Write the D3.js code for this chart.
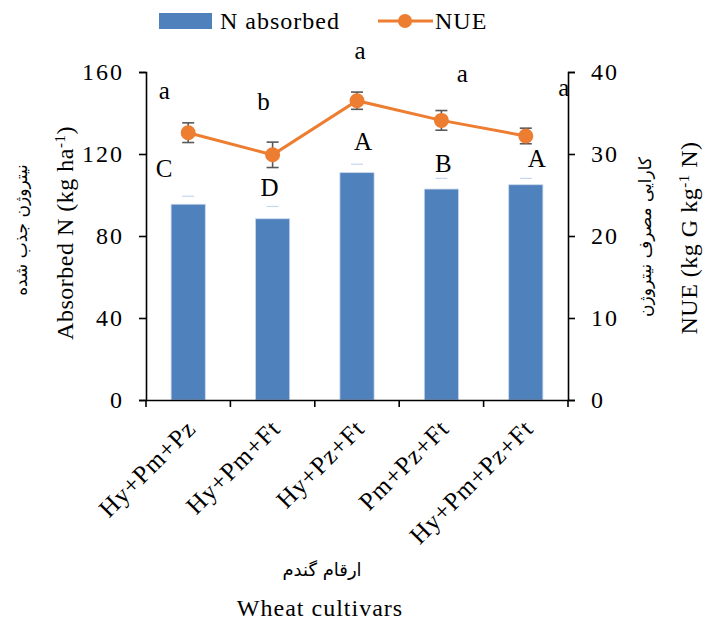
<!DOCTYPE html>
<html>
<head>
<meta charset="utf-8">
<script src="https://cdn.jsdelivr.net/npm/d3@7/dist/d3.min.js"></script>
<style>
  html, body { margin: 0; padding: 0; background: #fff; }
  svg { display: block; }
  text { font-family: "Liberation Serif", "Times New Roman", serif; fill: #000; letter-spacing: 1px; }
  .fa { font-family: "DejaVu Sans", "Noto Sans", sans-serif; letter-spacing: 0; }
</style>
</head>
<body>
<svg id="chart" width="703" height="621"></svg>
<script>
// Wheat cultivar mixtures
const cultivars = ["Hy+Pm+Pz", "Hy+Pm+Ft", "Hy+Pz+Ft", "Pm+Pz+Ft", "Hy+Pm+Pz+Ft"];

// Absorbed nitrogen (kg ha-1) and its error
const nAbsorbed = [95.5, 88.4, 110.9, 102.9, 105.0];
const nAbsorbedErr = [3.9, 6.0, 4.1, 5.2, 3.1];

// Nitrogen use efficiency (kg G kg-1 N) and its error
const nue = [32.6, 29.9, 36.5, 34.1, 32.2];
const nueErr = [1.2, 1.55, 1.05, 1.2, 0.95];

// Mean-separation letters
const nLetters = ["C", "D", "A", "B", "A"];
const nueLetters = ["a", "b", "a", "a", "a"];

// Axis ticks
const leftTicks = [0, 40, 80, 120, 160];
const rightTicks = [0, 10, 20, 30, 40];

const svg = d3.select("#chart");
const m = { left: 146, right: 568, top: 72, bottom: 400 };

const x = d3.scaleBand().domain(cultivars).range([m.left, m.right]).paddingInner(0).paddingOuter(0);
const yL = d3.scaleLinear().domain([0, 160]).range([m.bottom, m.top]);
const yR = d3.scaleLinear().domain([0, 40]).range([m.bottom, m.top]);
const cx = d => x(d) + x.bandwidth() / 2;
const barW = x.bandwidth() * 0.405;

const blue = "#4f81bd", orange = "#ed7d31", errGrey = "#595959";
const tickFont = 24;

// Bars
svg.append("g").selectAll("rect").data(cultivars).join("rect")
  .attr("x", (d) => cx(d) - barW / 2)
  .attr("y", (d, i) => yL(nAbsorbed[i]))
  .attr("width", barW)
  .attr("height", (d, i) => yL(0) - yL(nAbsorbed[i]))
  .attr("fill", blue)
  .attr("stroke", "#c9d7ea")
  .attr("stroke-width", 0.8);

// Bar error caps (faint)
svg.append("g").selectAll("line").data(cultivars).join("line")
  .attr("x1", d => cx(d) - 6).attr("x2", d => cx(d) + 6)
  .attr("y1", (d, i) => yL(nAbsorbed[i] + nAbsorbedErr[i]))
  .attr("y2", (d, i) => yL(nAbsorbed[i] + nAbsorbedErr[i]))
  .attr("stroke", "#c6d6ee").attr("stroke-width", 1.2);

// Axes
const axL = d3.axisLeft(yL).tickValues(leftTicks).tickSize(7).tickPadding(15);
const axR = d3.axisRight(yR).tickValues(rightTicks).tickSize(7).tickPadding(16);
const axB = d3.axisBottom(x).tickValues([]).tickSizeOuter(0);

function styleAxis(g) {
  g.selectAll("path, line").attr("stroke", "#000").attr("stroke-width", 1.6);
  g.selectAll("text").style("font-family", "Liberation Serif").style("font-size", tickFont + "px")
    .style("letter-spacing", "2px").attr("fill", "#000");
}
svg.append("g").attr("transform", `translate(${m.left},0)`).call(axL).call(styleAxis);
svg.append("g").attr("transform", `translate(${m.right},0)`).call(axR).call(styleAxis);
const gB = svg.append("g").attr("transform", `translate(0,${m.bottom})`).call(axB).call(styleAxis);

// Category boundary ticks on the x axis
const bounds = cultivars.map(d => x(d)).concat([m.right]);
gB.selectAll("line.bt").data(bounds).join("line").attr("class", "bt")
  .attr("x1", d => d).attr("x2", d => d).attr("y1", 0).attr("y2", 7)
  .attr("stroke", "#000").attr("stroke-width", 1.6);

// Rotated category labels
svg.append("g").selectAll("text").data(cultivars).join("text")
  .attr("transform", d => `translate(${cx(d) + 3},${m.bottom + 24}) rotate(-45)`)
  .attr("text-anchor", "end")
  .attr("dy", "0.35em")
  .style("font-size", "25px")
  .text(d => d);

// NUE error bars
const eg = svg.append("g").attr("stroke", errGrey).attr("stroke-width", 1.6);
cultivars.forEach((d, i) => {
  const xc = cx(d), y1 = yR(nue[i] - nueErr[i]), y2 = yR(nue[i] + nueErr[i]);
  eg.append("line").attr("x1", xc).attr("x2", xc).attr("y1", y1).attr("y2", y2);
  eg.append("line").attr("x1", xc - 6).attr("x2", xc + 6).attr("y1", y1).attr("y2", y1);
  eg.append("line").attr("x1", xc - 6).attr("x2", xc + 6).attr("y1", y2).attr("y2", y2);
});

// NUE line and markers
svg.append("path").datum(cultivars)
  .attr("fill", "none").attr("stroke", orange).attr("stroke-width", 3)
  .attr("d", d3.line().x(d => cx(d)).y((d, i) => yR(nue[i])));
svg.append("g").selectAll("circle").data(cultivars).join("circle")
  .attr("cx", d => cx(d)).attr("cy", (d, i) => yR(nue[i])).attr("r", 7.5)
  .attr("fill", orange);

// Letter placement offsets (px) relative to each mark
const upperOff = [[-24, -36], [-3, -32], [6, -31], [2, -26], [11, -27]];
const lowerOff = [[-24, -41], [-9, -52], [3, -49], [21, -46], [38, -47]];

svg.append("g").selectAll("text").data(cultivars).join("text")
  .attr("x", (d, i) => cx(d) + upperOff[i][0])
  .attr("y", (d, i) => yL(nAbsorbed[i]) + upperOff[i][1])
  .attr("text-anchor", "middle").attr("dy", "0.35em")
  .style("font-size", "25px").style("letter-spacing", "0")
  .text((d, i) => nLetters[i]);

svg.append("g").selectAll("text").data(cultivars).join("text")
  .attr("x", (d, i) => cx(d) + lowerOff[i][0])
  .attr("y", (d, i) => yR(nue[i]) + lowerOff[i][1])
  .attr("text-anchor", "middle").attr("dy", "0.3em")
  .style("font-size", "25px").style("letter-spacing", "0")
  .text((d, i) => nueLetters[i]);

// Axis titles
const tL = svg.append("text").attr("transform", "translate(73,233) rotate(-90)")
  .attr("text-anchor", "middle").style("font-size", "24px").style("letter-spacing", "0.5px");
tL.append("tspan").text("Absorbed N (kg ha");
tL.append("tspan").attr("baseline-shift", "super").style("font-size", "15px").text("-1");
tL.append("tspan").text(")");

svg.append("text").attr("class", "fa").attr("transform", "translate(27,230) rotate(-90)")
  .attr("text-anchor", "middle").style("font-size", "17px").text("نیتروژن جذب شده");

const tR = svg.append("text").attr("transform", "translate(697,238) rotate(-90)")
  .attr("text-anchor", "middle").style("font-size", "24px").style("letter-spacing", "0.5px");
tR.append("tspan").text("NUE (kg G kg");
tR.append("tspan").attr("baseline-shift", "super").style("font-size", "15px").text("-1");
tR.append("tspan").text(" N)");

svg.append("text").attr("class", "fa").attr("transform", "translate(651,237) rotate(-90)")
  .attr("text-anchor", "middle").style("font-size", "17px").text("کارایی مصرف نیتروژن");

svg.append("text").attr("class", "fa").attr("x", 322).attr("y", 576)
  .attr("text-anchor", "middle").style("font-size", "18px").text("ارقام گندم");

svg.append("text").attr("x", 320).attr("y", 616)
  .attr("text-anchor", "middle").style("font-size", "24px").text("Wheat cultivars");

// Legend
const lg = svg.append("g");
lg.append("rect").attr("x", 159).attr("y", 13).attr("width", 53).attr("height", 16).attr("fill", blue);
lg.append("text").attr("x", 220).attr("y", 29).style("font-size", "24px").text("N absorbed");
lg.append("line").attr("x1", 378).attr("x2", 433).attr("y1", 21).attr("y2", 21)
  .attr("stroke", orange).attr("stroke-width", 3);
lg.append("circle").attr("cx", 405).attr("cy", 21).attr("r", 7).attr("fill", orange);
lg.append("text").attr("x", 435).attr("y", 29).style("font-size", "24px").text("NUE");
</script>
</body>
</html>
